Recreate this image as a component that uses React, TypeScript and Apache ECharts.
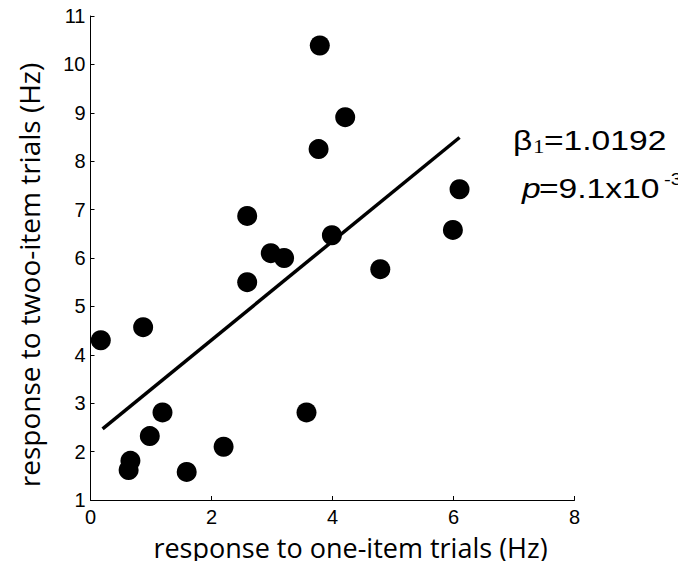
import React, { useEffect, useRef } from "react";
import * as echarts from "echarts";

const oneItem = [0.17, 0.87, 0.63, 0.66, 0.98, 1.19, 1.59, 2.2, 3.57, 2.59, 2.59, 2.98, 3.2, 3.79, 4.21, 3.77, 3.99, 4.79, 5.99, 6.1];
const twoItem = [4.3, 4.57, 1.62, 1.81, 2.32, 2.81, 1.58, 2.1, 2.81, 6.87, 5.5, 6.1, 6.0, 10.39, 8.91, 8.25, 6.47, 5.77, 6.58, 7.42];
const fitX = [0.2, 6.1];
const fitY = [2.47, 8.49];
const xTicks = [0, 2, 4, 6, 8];
const yTicks = [1, 2, 3, 4, 5, 6, 7, 8, 9, 10, 11];

export default function App() {
  const ref = useRef<HTMLDivElement>(null);
  useEffect(() => {
    if (!ref.current) return;
    const chart = echarts.init(ref.current, null, { renderer: "svg" });
    const sans = "Liberation Sans";
    const sx = 1.2;
    const t = (text: string, x: number, y: number, font: string) => ({
      type: "text",
      x,
      y,
      scaleX: sx,
      style: { text, font, fill: "#000", align: "left", verticalAlign: "middle" },
    });
    chart.setOption({
      animation: false,
      backgroundColor: "#fff",
      grid: { left: 90.5, right: 111.5, top: 16, bottom: 69, containLabel: false },
      xAxis: {
        type: "value",
        min: xTicks[0],
        max: xTicks[xTicks.length - 1],
        interval: 2,
        name: "response to one-item trials (Hz)",
        nameLocation: "middle",
        nameGap: 34,
        nameTextStyle: { fontFamily: "Open Sans", fontSize: 27, color: "#000", padding: [0, 0, 0, 36] },
        axisLine: { show: true, lineStyle: { color: "#000", width: 1 } },
        axisTick: { show: true, inside: true, length: 4, lineStyle: { color: "#000" } },
        axisLabel: { fontFamily: sans, fontSize: 20, color: "#000", margin: 7 },
        splitLine: { show: false },
      },
      yAxis: {
        type: "value",
        min: yTicks[0],
        max: yTicks[yTicks.length - 1],
        interval: 1,
        name: "response to twoo-item trials (Hz)",
        nameLocation: "middle",
        nameGap: 48,
        nameTextStyle: { fontFamily: "Open Sans", fontSize: 28, color: "#000", padding: [0, 34, 0, 0] },
        axisLine: { show: true, lineStyle: { color: "#000", width: 1 } },
        axisTick: { show: true, inside: true, length: 4, lineStyle: { color: "#000" } },
        axisLabel: { fontFamily: sans, fontSize: 20, color: "#000", margin: 5 },
        splitLine: { show: false },
      },
      series: [
        {
          type: "line",
          data: fitX.map((x, i) => [x, fitY[i]]),
          symbol: "none",
          lineStyle: { color: "#000", width: 3.5 },
          z: 2,
        },
        {
          type: "scatter",
          data: oneItem.map((x, i) => [x, twoItem[i]]),
          symbol: "circle",
          symbolSize: 20,
          itemStyle: { color: "#000", opacity: 1 },
          z: 3,
        },
      ],
      graphic: [
        t("β", 513, 140, `28px ${sans}`),
        t("1", 533, 147, `19px "Liberation Serif"`),
        t("=1.0192", 544, 140, `28px ${sans}`),
        t("p", 522, 188, `italic 28px ${sans}`),
        t("=9.1x10", 539, 188, `28px ${sans}`),
        t("-3", 664, 179, `17px ${sans}`),
      ],
    });
    return () => chart.dispose();
  }, []);
  return <div ref={ref} style={{ width: 686, height: 569, margin: -8 }} />;
}
